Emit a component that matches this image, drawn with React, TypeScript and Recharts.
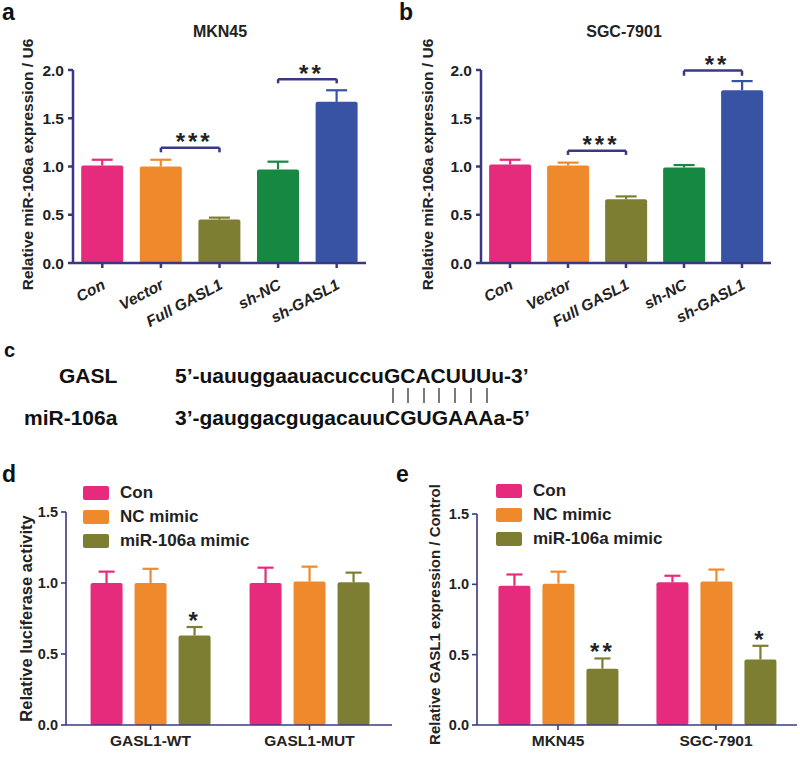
import React from 'react';
import { BarChart, Bar, Cell, XAxis, YAxis, ReferenceLine, Legend } from 'recharts';

const FONT = '"Liberation Sans", Arial, Helvetica, sans-serif';
const NAVY = '#3a3883';
const INK = '#222222';

const PINK = '#E62A7C';
const ORANGE = '#EF8A2C';
const OLIVE = '#7E7E32';
const GREEN = '#168841';
const BLUE = '#3953A4';

// panels a & b
const abCategories = ['Con', 'Vector', 'Full GASL1', 'sh-NC', 'sh-GASL1'];
const abColors = [PINK, ORANGE, OLIVE, GREEN, BLUE];
const aMeans = [1.01, 1.0, 0.45, 0.97, 1.67];
const aErrors = [0.06, 0.07, 0.02, 0.08, 0.12];
const bMeans = [1.02, 1.01, 0.66, 0.99, 1.79];
const bErrors = [0.05, 0.03, 0.03, 0.025, 0.095];
const abTicks = [0, 0.5, 1, 1.5, 2];
const aBrackets = [
  { from: 'Vector', to: 'Full GASL1', y: 1.195, foot: 1.147, stars: '***' },
  { from: 'sh-NC', to: 'sh-GASL1', y: 1.905, foot: 1.862, stars: '**' },
];
const bBrackets = [
  { from: 'Vector', to: 'Full GASL1', y: 1.164, foot: 1.12, stars: '***' },
  { from: 'sh-NC', to: 'sh-GASL1', y: 1.995, foot: 1.94, stars: '**' },
];

// panels d & e
const seriesNames = ['Con', 'NC mimic', 'miR-106a mimic'];
const seriesColors = [PINK, ORANGE, OLIVE];
const deTicks = [0, 0.5, 1, 1.5];

const dGroups = ['GASL1-WT', 'GASL1-MUT'];
const dCon = [1.0, 1.0];
const dConErr = [0.08, 0.108];
const dNC = [1.0, 1.01];
const dNCErr = [0.1, 0.105];
const dMimic = [0.63, 1.005];
const dMimicErr = [0.06, 0.068];
const dStars = ['*', ''];

const eGroups = ['MKN45', 'SGC-7901'];
const eCon = [0.99, 1.015];
const eConErr = [0.08, 0.046];
const eNC = [1.005, 1.02];
const eNCErr = [0.085, 0.085];
const eMimic = [0.4, 0.465];
const eMimicErr = [0.073, 0.098];
const eStars = ['**', '*'];

const aData = abCategories.map((name, i) => ({ name, mean: aMeans[i], err: aErrors[i] }));
const bData = abCategories.map((name, i) => ({ name, mean: bMeans[i], err: bErrors[i] }));

const groupData = (groups: string[], vals: number[][], errs: number[][], stars: string[]) =>
  groups.map((name, i) => ({
    name,
    s0: vals[0][i], e0: errs[0][i],
    s1: vals[1][i], e1: errs[1][i],
    s2: vals[2][i], e2: errs[2][i],
    sig: stars[i],
  }));

const dData = groupData(dGroups, [dCon, dNC, dMimic], [dConErr, dNCErr, dMimicErr], dStars);
const eData = groupData(eGroups, [eCon, eNC, eMimic], [eConErr, eNCErr, eMimicErr], eStars);

// bar with an upward error bar (and optional star) in the bar's own colour
const errorBarShape = (valKey: string, errKey: string, sigKey?: string) => (props: any) => {
  const { x, y, width, height, fill, payload } = props;
  const v = payload[valKey];
  const k = v ? height / v : 0;
  const top = y - payload[errKey] * k;
  const cx = x + width / 2;
  const cap = width * 0.25;
  const sig = sigKey ? payload[sigKey] : '';
  return (
    <g>
      <line x1={cx} x2={cx} y1={y} y2={top} stroke={fill} strokeWidth={2.2} />
      <line x1={cx - cap} x2={cx + cap} y1={top} y2={top} stroke={fill} strokeWidth={2.2} />
      <rect x={x} y={y} width={width} height={height} fill={fill} rx={2} />
      {sig ? (
        <text x={cx} y={top + 2} textAnchor="middle" fontSize={24} fontWeight="bold" letterSpacing={3}
          fill={INK} fontFamily={FONT}>{sig}</text>
      ) : null}
    </g>
  );
};

const yLabel = (text: string, lx: number, size: number, dy = 0) => ({
  content: ({ viewBox }: any) => {
    const cy = viewBox.y + viewBox.height / 2 + dy;
    return (
      <text x={lx} y={cy} transform={`rotate(-90 ${lx} ${cy})`} textAnchor="middle"
        dominantBaseline="central" fontSize={size} fontWeight="bold" fill={INK} fontFamily={FONT}>
        {text}
      </text>
    );
  },
});

const SlantTick = ({ x, y, payload }: any) => (
  <g transform={`translate(${x + 4},${y + 18})`}>
    <text textAnchor="end" transform="rotate(-28)" fontSize={15.5} fontWeight="bold" fontStyle="italic"
      fill={INK} fontFamily={FONT}>{payload.value}</text>
  </g>
);

const starLabel = (stars: string) => ({
  content: ({ viewBox }: any) => (
    <text x={viewBox.x + viewBox.width / 2 + 4} y={viewBox.y + 2.5} textAnchor="middle" fontSize={24}
      fontWeight="bold" letterSpacing={3} fill={INK} fontFamily={FONT}>{stars}</text>
  ),
});

const fmt = (v: number) => v.toFixed(1);

const ExpressionPanel = ({ data, brackets, left, marginLeft, marginRight }: any) => (
  <div style={{ position: 'absolute', left, top: 0 }}>
    <BarChart width={400} height={340} data={data} barCategoryGap="14%"
      margin={{ top: 70, right: marginRight, bottom: 0, left: marginLeft }}>
      <XAxis dataKey="name" height={77} interval={0} tick={<SlantTick />} tickSize={5} tickMargin={2}
        axisLine={{ stroke: NAVY, strokeWidth: 2.5 }} tickLine={{ stroke: NAVY, strokeWidth: 2.5 }} />
      <YAxis width={45} domain={[0, 2]} ticks={abTicks} tickFormatter={fmt} tickSize={5} tickMargin={4}
        axisLine={{ stroke: NAVY, strokeWidth: 2.5 }} tickLine={{ stroke: NAVY, strokeWidth: 2.5 }}
        tick={{ fontSize: 15.5, fontWeight: 'bold', fill: INK, fontFamily: FONT }}
        label={yLabel('Relative miR-106a expression / U6', 27, 15.5, -2)} />
      <Bar dataKey="mean" isAnimationActive={false} shape={errorBarShape('mean', 'err')}>
        {data.map((d: any, i: number) => <Cell key={d.name} fill={abColors[i]} />)}
      </Bar>
      {brackets.map((b: any) => (
        <ReferenceLine key={b.stars + 'h'} ifOverflow="visible" stroke={NAVY} strokeWidth={2.5}
          segment={[{ x: b.from, y: b.y }, { x: b.to, y: b.y }]} label={starLabel(b.stars)} />
      ))}
      {brackets.map((b: any) => (
        <ReferenceLine key={b.stars + 'l'} ifOverflow="visible" stroke={NAVY} strokeWidth={2.5}
          segment={[{ x: b.from, y: b.y }, { x: b.from, y: b.foot }]} />
      ))}
      {brackets.map((b: any) => (
        <ReferenceLine key={b.stars + 'r'} ifOverflow="visible" stroke={NAVY} strokeWidth={2.5}
          segment={[{ x: b.to, y: b.y }, { x: b.to, y: b.foot }]} />
      ))}
    </BarChart>
  </div>
);

const renderLegend = ({ payload }: any) => (
  <div style={{ fontFamily: FONT }}>
    {(payload || []).map((p: any) => (
      <div key={p.value} style={{ display: 'flex', alignItems: 'center', height: 24 }}>
        <span style={{ display: 'inline-block', width: 26, height: 14, background: p.color, borderRadius: 2, marginRight: 11 }} />
        <span style={{ fontSize: 17, fontWeight: 'bold', color: INK }}>{p.value}</span>
      </div>
    ))}
  </div>
);

const GroupPanel = ({ data, left, margin, yText, yX, ySize, yDy, legendPos, padding }: any) => (
  <div style={{ position: 'absolute', left, top: 400 }}>
    <BarChart width={400} height={359} data={data} barCategoryGap="12.3%" barGap={12} margin={margin}>
      <XAxis dataKey="name" height={30} interval={0} tickSize={5} tickMargin={5} padding={padding}
        axisLine={{ stroke: NAVY, strokeWidth: 1.6 }} tickLine={{ stroke: NAVY, strokeWidth: 1.6 }}
        tick={{ fontSize: 15.5, fontWeight: 'bold', fill: INK, fontFamily: FONT }} />
      <YAxis width={40} domain={[0, 1.5]} ticks={deTicks} tickFormatter={fmt} tickSize={5} tickMargin={3}
        axisLine={{ stroke: NAVY, strokeWidth: 1.6 }} tickLine={{ stroke: NAVY, strokeWidth: 1.6 }}
        tick={{ fontSize: 14.5, fontWeight: 'bold', fill: INK, fontFamily: FONT }}
        label={yLabel(yText, yX, ySize, yDy)} />
      <Legend layout="vertical" align="center" verticalAlign="middle" content={renderLegend}
        wrapperStyle={{ left: legendPos[0], top: legendPos[1], width: 'auto', height: 'auto' }} />
      {seriesNames.map((name, i) => (
        <Bar key={name} name={name} dataKey={`s${i}`} fill={seriesColors[i]} isAnimationActive={false}
          shape={errorBarShape(`s${i}`, `e${i}`, i === 2 ? 'sig' : undefined)} />
      ))}
    </BarChart>
  </div>
);

const Letter = ({ x, y, t, size = 23 }: any) => (
  <text x={x} y={y} fontSize={size} fontWeight="bold" fill="#111" fontFamily={FONT}>{t}</text>
);

const pairLines = [393, 408, 424, 439, 455, 471, 487];

export default function App() {
  return (
    <div style={{ position: 'absolute', left: 0, top: 0, width: 800, height: 759, background: '#fff', fontFamily: FONT }}>
      <ExpressionPanel data={aData} brackets={aBrackets} left={0} marginLeft={28} marginRight={34} />
      <ExpressionPanel data={bData} brackets={bBrackets} left={400} marginLeft={36} marginRight={29} />
      <GroupPanel data={dData} left={0} margin={{ top: 112, right: 8, bottom: 4, left: 26 }}
        padding={{ left: 5, right: 3 }} yText="Relative luciferase activity" yX={26} ySize={16.5} yDy={0}
        legendPos={[83, 81]} />
      <GroupPanel data={eData} left={400} margin={{ top: 114, right: 3, bottom: 4, left: 37 }}
        padding={{ left: 2, right: 2 }} yText="Relative GASL1 expression / Control" yX={34} ySize={15} yDy={-5}
        legendPos={[96, 79]} />
      <svg width={800} height={759} style={{ position: 'absolute', left: 0, top: 0, pointerEvents: 'none' }}>
        <Letter x={2} y={20} t="a" />
        <Letter x={399} y={20} t="b" />
        <Letter x={4} y={357} t="c" size={20} />
        <Letter x={2} y={482} t="d" />
        <Letter x={396} y={482} t="e" />
        <text x={220} y={37} textAnchor="middle" fontSize={16} fontWeight="bold" fill={INK} fontFamily={FONT}>MKN45</text>
        <text x={624} y={37} textAnchor="middle" fontSize={16} fontWeight="bold" fill={INK} fontFamily={FONT}>SGC-7901</text>
        <g fontSize={21} fontWeight="bold" fill="#111" fontFamily={FONT}>
          <text x={59} y={383}>GASL</text>
          <text x={175} y={383}>5’-uauuggaauacuccuGCACUUUu-3’</text>
          <text x={24} y={425}>miR-106a</text>
          <text x={175} y={425}>3’-gauggacgugacauuCGUGAAAa-5’</text>
        </g>
        {pairLines.map((lx) => (
          <line key={lx} x1={lx} x2={lx} y1={388} y2={403} stroke="#333" strokeWidth={1.3} />
        ))}
      </svg>
    </div>
  );
}
